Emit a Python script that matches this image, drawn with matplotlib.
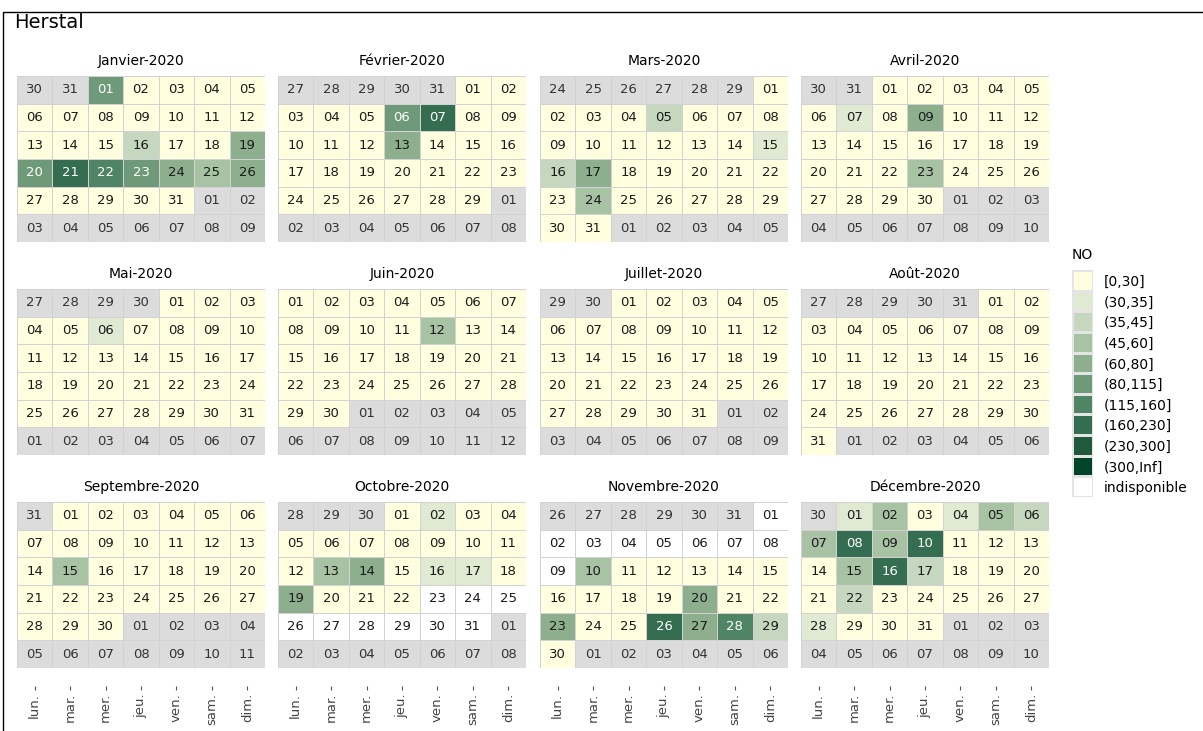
import numpy as np
import matplotlib.pyplot as plt
import datetime as dt
from matplotlib.colors import ListedColormap, BoundaryNorm
from matplotlib.patches import Rectangle

# daily NO estimates (nan = no data)
nan = np.nan
jan = [95, 20, 20, 20, 20, 20, 20, 20, 20, 20, 20, 20, 20, 20, 20, 40,
       20, 20, 70, 95, 190, 135, 95, 70, 52, 75, 20, 20, 20, 20, 20]
feb = [20, 20, 20, 20, 20, 95, 190, 20, 20, 20, 20, 20, 70, 20, 20, 20,
       20, 20, 20, 20, 20, 20, 20, 20, 20, 20, 20, 20, 20]
mar = [20, 20, 20, 20, 40, 20, 20, 20, 20, 20, 20, 20, 20, 20, 33, 40,
       70, 20, 20, 20, 20, 20, 20, 52, 20, 20, 20, 20, 20, 20, 20]
apr = [20, 20, 20, 20, 20, 20, 33, 20, 70, 20, 20, 20, 20, 20, 20, 20,
       20, 20, 20, 20, 20, 20, 52, 20, 20, 20, 20, 20, 20, 20]
may = [20, 20, 20, 20, 20, 33, 20, 20, 20, 20, 20, 20, 20, 20, 20, 20,
       20, 20, 20, 20, 20, 20, 20, 20, 20, 20, 20, 20, 20, 20, 20]
jun = [20, 20, 20, 20, 20, 20, 20, 20, 20, 20, 20, 52, 20, 20, 20, 20,
       20, 20, 20, 20, 20, 20, 20, 20, 20, 20, 20, 20, 20, 20]
jul = [20] * 31
aug = [20] * 31
sep = [20, 20, 20, 20, 20, 20, 20, 20, 20, 20, 20, 20, 20, 20, 52, 20,
       20, 20, 20, 20, 20, 20, 20, 20, 20, 20, 20, 20, 20, 20]
oct_ = [20, 33, 20, 20, 20, 20, 20, 20, 20, 20, 20, 20, 52, 70, 20, 33,
        33, 20, 65, 20, 20, 20, nan, nan, nan, nan, nan, nan, nan, nan, nan]
nov = [nan, nan, nan, nan, nan, nan, nan, nan, nan, 52, 20, 20, 20, 20, 20, 20,
       20, 20, 20, 70, 20, 20, 70, 20, 20, 190, 70, 135, 40, 20]
dec = [33, 52, 20, 33, 52, 40, 52, 190, 52, 190, 20, 20, 20, 20, 52, 190,
       40, 20, 20, 20, 20, 40, 20, 20, 20, 20, 20, 33, 20, 20, 20]

months = ['Janvier', 'Février', 'Mars', 'Avril', 'Mai', 'Juin', 'Juillet',
          'Août', 'Septembre', 'Octobre', 'Novembre', 'Décembre']
month_data = [jan, feb, mar, apr, may, jun, jul, aug, sep, oct_, nov, dec]
weekdays = ['lun.', 'mar.', 'mer.', 'jeu.', 'ven.', 'sam.', 'dim.']

breaks = [30, 35, 45, 60, 80, 115, 160, 230, 300]
labels = ['[0,30]', '(30,35]', '(35,45]', '(45,60]', '(60,80]', '(80,115]',
          '(115,160]', '(160,230]', '(230,300]', '(300,Inf]', 'indisponible']
greens = ['#FFFFE0', '#E0E9D2', '#C6D7BF', '#A8C3A4', '#8DAF8E', '#6E9A79',
          '#4F8464', '#346D50', '#1F5A3D', '#00452A']
grey = '#DCDCDC'

# codes: -2 outside month, -1 missing, 0..9 classes
cmap = ListedColormap([grey, 'white'] + greens)
norm = BoundaryNorm(np.arange(-2.5, 10.5, 1), cmap.N)

W, H = 1203, 731
fig = plt.figure(figsize=(W / 100, H / 100), dpi=100)
fig.patches.append(Rectangle((3 / W, -1), 2, 1 - 12 / H + 1, transform=fig.transFigure,
                             fill=False, edgecolor='black', linewidth=1))
fig.text(14 / W, 1 - 22 / H, 'Herstal', fontsize=14, va='center', ha='left')

col_x = [17, 278, 540, 801]
row_y = [76, 289, 502]
pw, ph = 248, 166

for m in range(12):
    r, c = divmod(m, 4)
    ax = fig.add_axes([col_x[c] / W, 1 - (row_y[r] + ph) / H, pw / W, ph / H])
    for s in ax.spines.values():
        s.set_visible(False)
    if r == 2:
        ax.spines['bottom'].set_position(('outward', 13))
    first = dt.date(2020, m + 1, 1)
    start = first - dt.timedelta(days=first.weekday())
    vals = np.array(month_data[m], dtype=float)
    codes = np.zeros((6, 7))
    for k in range(42):
        d = start + dt.timedelta(days=k)
        i, j = divmod(k, 7)
        if d.month != m + 1:
            code, tc = -2, '#333333'
        else:
            v = vals[d.day - 1]
            if np.isnan(v):
                code, tc = -1, '#1a1a1a'
            else:
                code = int(np.digitize(v, breaks, right=True))
                tc = 'white' if code >= 5 else '#1a1a1a'
        codes[i, j] = code
        ax.text(j + 0.5, i + 0.5, '%02d' % d.day, ha='center', va='center',
                fontsize=9.5, color=tc)
    ax.pcolormesh(np.arange(8), np.arange(7), codes, cmap=cmap, norm=norm,
                  edgecolors='#d2d2d2', linewidth=0.6)
    ax.set_xlim(0, 7)
    ax.set_ylim(6, 0)
    ax.set_yticks([])
    ax.set_title('%s-2020' % months[m], fontsize=10, pad=8)
    if r == 2:
        ax.set_xticks(np.arange(7) + 0.5)
        ax.set_xticklabels(weekdays, fontsize=9.5, color='#444444')
        ax.tick_params(axis='x', length=3, width=0.8, color='#555555', pad=2,
                       labelrotation=90)
    else:
        ax.set_xticks([])

# legend
lax = fig.add_axes([1072 / W, 1 - 497 / H, 21 / W, 227 / H])
lcodes = np.arange(11).reshape(-1, 1).astype(float)
lcodes[10, 0] = -1
lax.pcolormesh(np.arange(2), np.arange(12), lcodes, cmap=cmap, norm=norm,
               edgecolors='#e4e4e4', linewidth=0.8)
lax.set_ylim(11, 0)
lax.set_xticks([])
lax.yaxis.tick_right()
lax.set_yticks(np.arange(11) + 0.5)
lax.set_yticklabels(labels, fontsize=10)
lax.tick_params(axis='y', length=0, pad=8)
for s in lax.spines.values():
    s.set_visible(False)
lax.text(0, -0.75, 'NO', fontsize=10, ha='left', va='center')

fig.savefig('out.png', dpi=100)
